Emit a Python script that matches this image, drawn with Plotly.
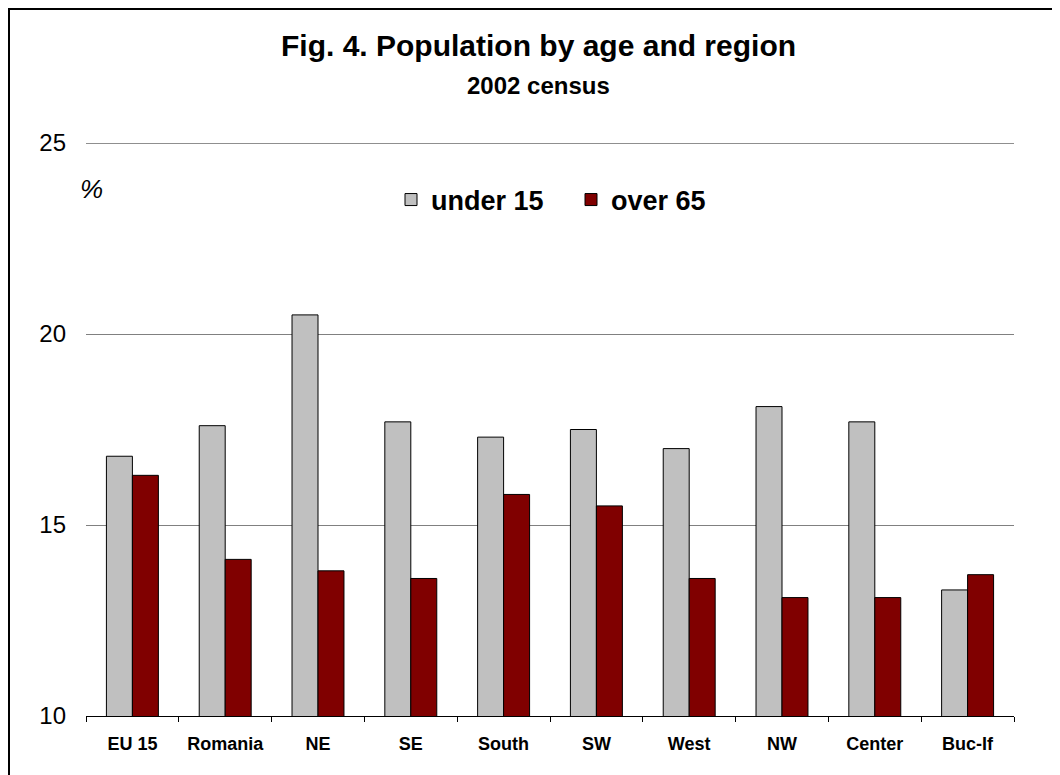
import plotly.graph_objects as go

regions = ["EU 15", "Romania", "NE", "SE", "South", "SW", "West", "NW", "Center", "Buc-If"]
under_15 = [16.8, 17.6, 20.5, 17.7, 17.3, 17.5, 17.0, 18.1, 17.7, 13.3]
over_65 = [16.3, 14.1, 13.8, 13.6, 15.8, 15.5, 13.6, 13.1, 13.1, 13.7]
y_ticks = [10, 15, 20, 25]

FONT = "Arial, Liberation Sans, sans-serif"

# figure-pixel geometry (page is offset by the 8px body margin)
L, R, T, B = 78, 54, 135, 67
W, H = 1060, 775
PW, PH = W - L - R, H - T - B


def px(x):
    return (x - L) / PW


def py(y):
    return (H - B - y) / PH


fig = go.Figure()
fig.add_trace(go.Bar(name="under 15", x=regions, y=under_15,
                     marker=dict(color="#C0C0C0", line=dict(color="#000000", width=1))))
fig.add_trace(go.Bar(name="over 65", x=regions, y=over_65,
                     marker=dict(color="#800000", line=dict(color="#000000", width=1))))

fig.update_layout(
    width=W, height=H,
    margin=dict(l=L, r=R, t=T, b=B),
    paper_bgcolor="white", plot_bgcolor="white",
    barmode="group", bargap=0.44, bargroupgap=0,
    font=dict(family=FONT, color="black"),
    showlegend=True,
    legend=dict(orientation="h", x=px(383), y=py(192), xanchor="left", yanchor="middle",
                font=dict(size=27, family=FONT, color="black", weight="bold"),
                bgcolor="rgba(0,0,0,0)", entrywidth=135, entrywidthmode="pixels"),
    xaxis=dict(showline=True, linecolor="black", linewidth=1,
               ticks="outside", tickson="boundaries", ticklen=5, tickcolor="black",
               tickfont=dict(size=18, family=FONT, color="black", weight="bold"),
               ticklabelstandoff=11, showgrid=False),
    yaxis=dict(range=[10, 25], tickvals=y_ticks, showgrid=True, gridcolor="#808080",
               gridwidth=1, zeroline=False, showline=False, ticks="",
               tickfont=dict(size=24, family=FONT, color="black"),
               ticklabelstandoff=19),
    annotations=[
        dict(text="<b>Fig. 4. Population by age and region</b>", xref="paper", yref="paper",
             x=px(530), y=py(37), xanchor="center", yanchor="middle",
             showarrow=False, font=dict(size=30, family=FONT, color="black")),
        dict(text="<b>2002 census</b>", xref="paper", yref="paper",
             x=px(530), y=py(77), xanchor="center", yanchor="middle",
             showarrow=False, font=dict(size=24, family=FONT, color="black")),
        dict(text="<i>%</i>", xref="paper", yref="paper",
             x=px(83), y=py(181), xanchor="center", yanchor="middle",
             showarrow=False, font=dict(size=26, family=FONT, color="black")),
    ],
    shapes=[
        dict(type="line", xref="paper", yref="y", x0=0, x1=1, y0=25, y1=25,
             line=dict(color="#202020", width=1)),
        dict(type="rect", xref="paper", yref="paper",
             x0=px(1), x1=px(1080), y0=py(800), y1=py(1),
             line=dict(color="black", width=2), fillcolor="rgba(0,0,0,0)"),
    ],
)

fig.write_html("out.html")
